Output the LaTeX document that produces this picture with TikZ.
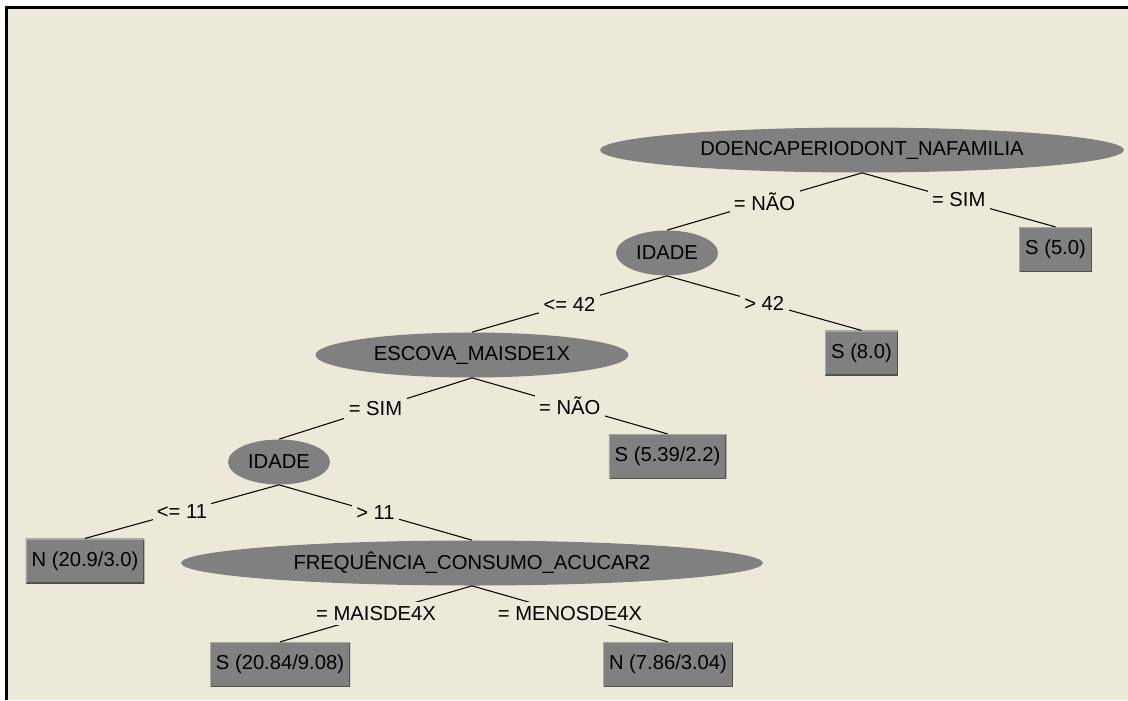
\documentclass[tikz,border=0pt]{standalone}
\usepackage{fontspec}
\setmainfont{Liberation Sans}
\usepackage{xcolor}
\usepackage{tikz}
\usetikzlibrary{shapes.geometric, positioning, calc}

\definecolor{xpback}{RGB}{236,233,216}
\definecolor{nodegray}{RGB}{128,128,128}
\definecolor{bevlight}{RGB}{168,168,168}
\definecolor{bevdark}{RGB}{80,80,80}

\tikzset{
  %% Split attribute (ellipse)
  attr/.style={
    ellipse, fill=nodegray, inner sep=0pt,
    minimum height=0.9cm, minimum width=#1
  },
  attr/.default=2cm,
  %% Leaf with class and counts
  leaf/.style={
    rectangle, fill=nodegray, inner xsep=3.4pt,
    minimum height=0.89cm,
    path picture={
      \draw[bevdark, line width=1.2pt]
        (path picture bounding box.south west) -| (path picture bounding box.north east);
      \draw[bevlight, line width=1.2pt]
        (path picture bounding box.south west) |- (path picture bounding box.north east);
    }
  },
  %% Branch and its test
  branch/.style={draw=black, line width=0.6pt},
  test/.style={fill=xpback, inner sep=2.5pt},
}

\begin{document}
\begin{tikzpicture}[x=0.02cm, y=-0.02cm,
                    every node/.style={font=\fontsize{11.5}{13}\selectfont}]

  \useasboundingbox (0,0) rectangle (1128,700);

  %% Panel background and frame
  \fill[white] (0,0) rectangle (1128,700);
  \fill[xpback] (6.5,7.5) rectangle (1128,700);
  \draw[black, line width=1.7pt] (6.5,700) -- (6.5,7.5) -- (1128,7.5);

  %% Split nodes
  \node[attr=10.48cm] (root)   at (862,150) {DOENCAPERIODONT\_NAFAMILIA};
  \node[attr=2.04cm]  (idade)  at (667,253) {IDADE};
  \node[attr=6.26cm]  (escova) at (472,355) {ESCOVA\_MAISDE1X};
  \node[attr=2.04cm]  (idadeb) at (279,462) {IDADE};
  \node[attr=11.64cm] (freq)   at (472,563) {FREQUÊNCIA\_CONSUMO\_ACUCAR2};

  %% Leaves
  \node[leaf] (sroot)  at (1055.5,249.5) {S (5.0)};
  \node[leaf] (sidade) at (861.5,353)    {S (8.0)};
  \node[leaf] (sesc)   at (667.5,456.5)  {S (5.39/2.2)};
  \node[leaf] (nidade) at (85,561)       {N (20.9/3.0)};
  \node[leaf] (sfreq)  at (280,664.5)    {S (20.84/9.08)};
  \node[leaf] (nfreq)  at (668,664.5)    {N (7.86/3.04)};

  %% Branches
  \draw[branch] (root.south)   -- node[test]{= NÃO} (idade.north);
  \draw[branch] (root.south)   -- node[test]{= SIM} (sroot.north);
  \draw[branch] (idade.south)  -- node[test]{<= 42} (escova.north);
  \draw[branch] (idade.south)  -- node[test]{> 42} (sidade.north);
  \draw[branch] (escova.south) -- node[test]{= SIM} (idadeb.north);
  \draw[branch] (escova.south) -- node[test]{= NÃO} (sesc.north);
  \draw[branch] (idadeb.south) -- node[test]{<= 11} (nidade.north);
  \draw[branch] (idadeb.south) -- node[test]{> 11} (freq.north);
  \draw[branch] (freq.south)   -- node[test]{= MAISDE4X} (sfreq.north);
  \draw[branch] (freq.south)   -- node[test]{= MENOSDE4X} (nfreq.north);

\end{tikzpicture}
\end{document}
